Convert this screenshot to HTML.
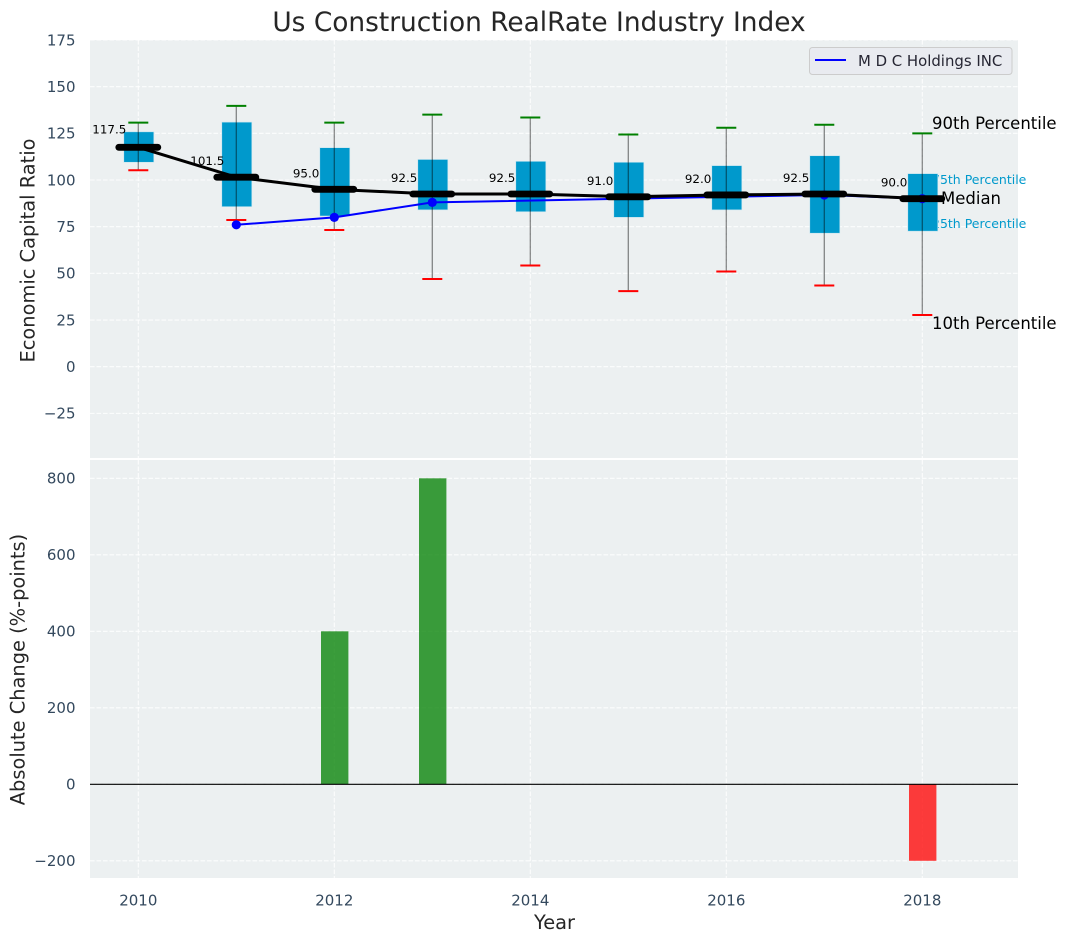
<!DOCTYPE html>
<html lang="en">
<head>
<meta charset="utf-8">
<title>Us Construction RealRate Industry Index</title>
<style>
html,body{margin:0;padding:0;background:#fff;width:1067px;height:942px;overflow:hidden}
svg{display:block;font-family:"DejaVu Sans","Liberation Sans",sans-serif}
</style>
</head>
<body>
<svg id="chart" xmlns="http://www.w3.org/2000/svg" width="1067" height="942" viewBox="0 0 1067 942">
  <rect x="0" y="0" width="1067" height="942" fill="#ffffff"/>
  <text x="539" y="31" font-size="26.4" fill="#262626" text-anchor="middle">Us Construction RealRate Industry Index</text>
  <rect x="90" y="40" width="928" height="418" fill="#ecf0f1"/>
  <rect x="90" y="460" width="928" height="418" fill="#ecf0f1"/>
  <g id="grid"></g>
  <g id="ticks"></g>
  <text transform="translate(34.5,250.5) rotate(-90)" font-size="19.4" fill="#262626" text-anchor="middle">Economic Capital Ratio</text>
  <text transform="translate(24.5,669.5) rotate(-90)" font-size="19.4" fill="#262626" text-anchor="middle">Absolute Change (%-points)</text>
  <text x="554.5" y="929" font-size="19.4" fill="#262626" text-anchor="middle">Year</text>
  <g>
    <text x="932" y="129" font-size="16.5" fill="#000000">90th Percentile</text>
    <text x="932" y="184" font-size="12.5" fill="#0099cc">75th Percentile</text>
    <text x="941" y="204" font-size="16.5" fill="#000000">Median</text>
    <text x="932" y="228" font-size="12.5" fill="#0099cc">25th Percentile</text>
    <text x="932" y="329" font-size="16.5" fill="#000000">10th Percentile</text>
  </g>
  <g id="marks"></g>
  <g id="bars"></g>
  <line x1="90" x2="1018" y1="784.3" y2="784.3" stroke="#000000" stroke-width="1.2"/>
  <g>
    <rect x="809.5" y="47.5" width="202.5" height="27" rx="3" fill="#e9ebf0" stroke="#cccccc" stroke-width="1"/>
    <line x1="815" x2="846" y1="60" y2="60" stroke="#0000ff" stroke-width="2"/>
    <text x="858" y="66" font-size="14.9" fill="#262633">M D C Holdings INC</text>
  </g>
</svg>
<script>
const years = [2010, 2011, 2012, 2013, 2014, 2015, 2016, 2017, 2018];
const p90 = [130.7, 139.7, 130.7, 135, 133.5, 124.4, 128, 129.6, 125];
const p75 = [125.8, 131, 117.3, 111, 110, 109.5, 107.7, 113, 103.4];
const median = [117.5, 101.5, 95, 92.5, 92.5, 91, 92, 92.5, 90];
const p25 = [109.5, 85.7, 80.7, 84, 83, 80, 84, 71.5, 72.6];
const p10 = [105.2, 78.6, 73.2, 47, 54.2, 40.5, 51, 43.5, 27.7];
const company = [null, 76, 80, 88, null, null, null, 92, 90];
const changes = [0, 0, 400, 800, 0, 0, 0, 0, -200];
const topTicks = [-25, 0, 25, 50, 75, 100, 125, 150, 175];
const bottomTicks = [-200, 0, 200, 400, 600, 800];
const xTicks = [2010, 2012, 2014, 2016, 2018];

const NS = 'http://www.w3.org/2000/svg';
const xScale = function (v) { return 138.3 + (v - 2010) * 98; };
const yTop = function (v) { return 366.7 - v * 1.867; };
const yBottom = function (v) { return 784.3 - v * 0.3825; };
function make(parent, tag, attrs) {
  const el = document.createElementNS(NS, tag);
  Object.keys(attrs).forEach(function (k) { el.setAttribute(k, attrs[k]); });
  parent.appendChild(el);
  return el;
}
function fmt(v) { return v < 0 ? '\u2212' + Math.abs(v) : String(v); }

const gridG = document.getElementById('grid');
const ticksG = document.getElementById('ticks');
const marksG = document.getElementById('marks');
const barsG = document.getElementById('bars');
const gridStyle = { stroke: '#ffffff', 'stroke-width': 1.1, 'stroke-opacity': 0.85, 'stroke-dasharray': '4.6 1.9' };

topTicks.forEach(function (t) {
  const g = make(gridG, 'line', Object.assign({ x1: 90, x2: 1018, y1: yTop(t), y2: yTop(t) }, gridStyle));
  
  
  const l = make(ticksG, 'text', { x: 75.5, y: yTop(t) + 5.3, 'font-size': 15, fill: '#34495e', 'text-anchor': 'end' });
  l.textContent = fmt(t);
  
  
});
bottomTicks.forEach(function (t) {
  const g = make(gridG, 'line', Object.assign({ x1: 90, x2: 1018, y1: yBottom(t), y2: yBottom(t) }, gridStyle));
  
  
  const l = make(ticksG, 'text', { x: 75.5, y: yBottom(t) + 5.3, 'font-size': 15, fill: '#34495e', 'text-anchor': 'end' });
  l.textContent = fmt(t);
  
  
});
xTicks.forEach(function (t) {
  const g1 = make(gridG, 'line', Object.assign({ x1: xScale(t), x2: xScale(t), y1: 40, y2: 458 }, gridStyle));
  
  
  const g2 = make(gridG, 'line', Object.assign({ x1: xScale(t), x2: xScale(t), y1: 460, y2: 878 }, gridStyle));
  
  
  const l = make(ticksG, 'text', { x: xScale(t), y: 905.3, 'font-size': 15, fill: '#34495e', 'text-anchor': 'middle' });
  l.textContent = String(t);
  
  
});

years.forEach(function (yr, i) {
  const x = xScale(yr);
  const box = make(marksG, 'rect', { x: x - 14.5, y: yTop(p75[i]), width: 30, height: yTop(p25[i]) - yTop(p75[i]), fill: '#0099cc', stroke: '#c4e4ef', 'stroke-width': 0.6 });
  
  
  const stem = make(marksG, 'line', { x1: x, x2: x, y1: yTop(p90[i]), y2: yTop(p10[i]), stroke: '#000000', 'stroke-opacity': 0.45, 'stroke-width': 1.3 });
  
  
  const hi = make(marksG, 'line', { x1: x - 10, x2: x + 10, y1: yTop(p90[i]), y2: yTop(p90[i]), stroke: '#008000', 'stroke-width': 2 });
  
  
  const lo = make(marksG, 'line', { x1: x - 10, x2: x + 10, y1: yTop(p10[i]), y2: yTop(p10[i]), stroke: '#ff0000', 'stroke-width': 2 });
  
  
});

const companyPts = years.map(function (yr, i) {
  return company[i] === null ? null : xScale(yr) + ',' + yTop(company[i]);
}).filter(Boolean).join(' ');
const companyLine = make(marksG, 'polyline', { points: companyPts, fill: 'none', stroke: '#0000ff', 'stroke-width': 2 });


years.forEach(function (yr, i) {
  if (company[i] === null) return;
  const dot = make(marksG, 'circle', { cx: xScale(yr), cy: yTop(company[i]), r: 4.6, fill: '#0000ff' });
  
  
});

const medianPts = years.map(function (yr, i) { return xScale(yr) + ',' + yTop(median[i]); }).join(' ');
const medianLine = make(marksG, 'polyline', { points: medianPts, fill: 'none', stroke: '#000000', 'stroke-width': 3 });


years.forEach(function (yr, i) {
  const x = xScale(yr);
  const bar = make(marksG, 'line', { x1: x - 19.5, x2: x + 19.5, y1: yTop(median[i]), y2: yTop(median[i]), stroke: '#000000', 'stroke-width': 6.8, 'stroke-linecap': 'round' });
  
  
  const label = make(marksG, 'text', { x: x - (median[i] >= 100 ? 12 : 15), y: yTop(median[i]) - (i === 0 ? 14 : 12), 'font-size': 11.9, fill: '#000000', 'text-anchor': 'end' });
  label.textContent = median[i].toFixed(1);
  
  
});

changes.forEach(function (v, i) {
  if (v === 0) return;
  const top = Math.min(yBottom(v), yBottom(0));
  const h = Math.abs(yBottom(v) - yBottom(0));
  const bar = make(barsG, 'rect', { x: xScale(years[i]) - 13.3, y: top, width: 27.4, height: h, fill: v > 0 ? '#008000' : '#ff0000', 'fill-opacity': 0.76 });
  
  
});
</script>
</body>
</html>
